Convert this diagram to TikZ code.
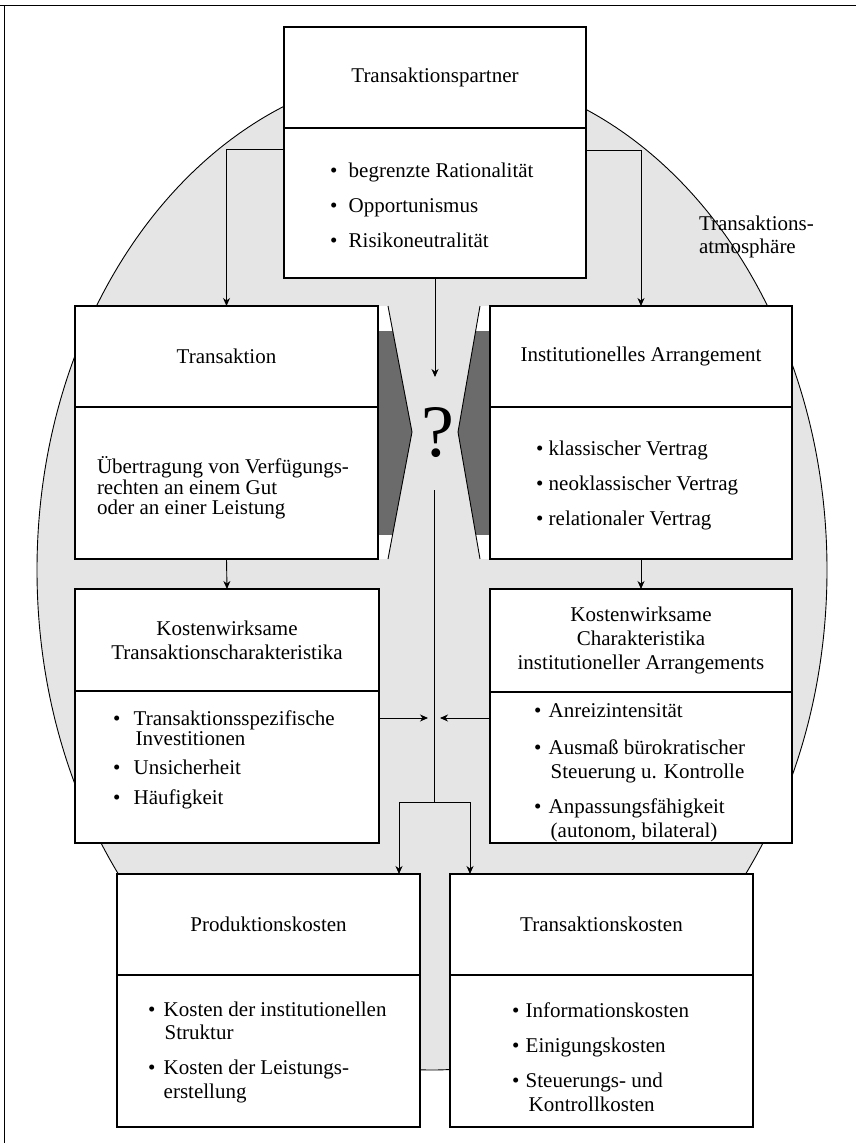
\documentclass[tikz,border=0pt]{standalone}
\usepackage{fontspec}
\setmainfont{Liberation Serif}
\usetikzlibrary{arrows.meta}
\newcommand\bulw[1]{\makebox[#1][l]{\textbullet}}
\begin{document}
\begin{tikzpicture}[x=1pt,y=-1pt,
  every node/.style={font=\fontsize{21}{23}\selectfont, inner sep=0pt, outer sep=0pt},
  part/.style={draw=black, line width=1.3pt, fill=white, align=center},
  txt/.style={align=left, anchor=west},
  arr/.style={line width=0.9pt, -{Stealth[length=8pt,width=7pt,inset=2.5pt]}},
  ln/.style={line width=0.9pt},
  atm/.style={fill=black!10, draw=black, line width=0.9pt},
  dark/.style={fill=black!58},
  frame/.style={line width=1.2pt}]
\useasboundingbox (0,0) rectangle (856,1143);
% frame (top and left only)
\draw[frame] (0,5.5) -- (856,5.5);
\draw[frame] (4.5,5.5) -- (4.5,1143);
% transaction atmosphere
\draw[atm] (432,570) ellipse [x radius=395pt, y radius=500pt];
% wedges beside the question mark
\fill[white] (378,306) -- (388,306) -- (412,432) -- (388,559) -- (378,559) -- cycle;
\begin{scope}
  \clip (378,306) -- (388,306) -- (412,432) -- (388,559) -- (378,559) -- cycle;
  \fill[dark] (370,331) rectangle (420,535);
\end{scope}
\draw[ln] (388,306) -- (412,432) -- (388,559);
\fill[white] (490,306) -- (480,306) -- (458,432) -- (480,559) -- (490,559) -- cycle;
\begin{scope}
  \clip (490,306) -- (480,306) -- (458,432) -- (480,559) -- (490,559) -- cycle;
  \fill[dark] (450,331) rectangle (500,535);
\end{scope}
\draw[ln] (480,306) -- (458,432) -- (480,559);
% boxes
\node[part, minimum width=302pt, minimum height=101pt] (tph) at (435,77.5) {Transaktionspartner};
\node[part, minimum width=302pt, minimum height=150pt] (tpb) at (435,203) {};
\node[part, minimum width=303pt, minimum height=101pt] (th) at (226.5,356.5) {Transaktion};
\node[part, minimum width=303pt, minimum height=152pt] (tb) at (226.5,483) {};
\node[part, minimum width=302pt, minimum height=101pt] (iah) at (641,356.5) {Institutionelles Arrangement};
\node[part, minimum width=302pt, minimum height=152pt] (iab) at (641,483) {};
\node[part, minimum width=304pt, minimum height=102pt, font=\fontsize{21}{24}\selectfont] (kth) at (227,640) {Kostenwirksame\\Transaktionscharakteristika};
\node[part, minimum width=304pt, minimum height=152pt] (ktb) at (227,767) {};
\node[part, minimum width=302pt, minimum height=103pt, font=\fontsize{21}{24}\selectfont] (kih) at (641,640.5) {Kostenwirksame\\Charakteristika\\institutioneller Arrangements};
\node[part, minimum width=302pt, minimum height=151pt] (kib) at (641,767.5) {};
\node[part, minimum width=303pt, minimum height=101pt] (pkh) at (268.5,924.5) {Produktionskosten};
\node[part, minimum width=303pt, minimum height=152pt] (pkb) at (268.5,1051) {};
\node[part, minimum width=303pt, minimum height=101pt] (tkh) at (601.5,924.5) {Transaktionskosten};
\node[part, minimum width=303pt, minimum height=152pt] (tkb) at (601.5,1051) {};
% body texts
\node[txt, font=\fontsize{21}{21}\selectfont] (tpt) at (330,205) {\bulw{18.7pt}begrenzte Rationalität\\[14pt]\bulw{18.7pt}Opportunismus\\[14pt]\bulw{18.7pt}Risikoneutralität};
\node[txt, font=\fontsize{21}{20.5}\selectfont] (tbt) at (97,488) {Übertragung von Verfügungs-\\rechten an einem Gut\\oder an einer Leistung};
\node[txt, font=\fontsize{21}{21}\selectfont] (iat) at (536,485) {\bulw{12.7pt}klassischer Vertrag\\[14pt]\bulw{12.7pt}neoklassischer Vertrag\\[14pt]\bulw{12.7pt}relationaler Vertrag};
\node[txt, font=\fontsize{21}{20}\selectfont] (ktt) at (113,760) {\bulw{20.7pt}Transaktionsspezifische\\\hspace*{22.7pt}Investitionen\\[9pt]\bulw{20.7pt}Unsicherheit\\[10pt]\bulw{20.7pt}Häufigkeit};
\node[txt, font=\fontsize{21}{24}\selectfont] (kit) at (534,773) {\bulw{14.7pt}Anreizintensität\\[13pt]\bulw{14.7pt}Ausmaß bürokratischer\\\hspace*{16.7pt}Steuerung u. Kontrolle\\[11pt]\bulw{14.7pt}Anpassungsfähigkeit\\\hspace*{16.7pt}(autonom, bilateral)};
\node[txt, font=\fontsize{21}{23.5}\selectfont] (pkt) at (148,1052) {\bulw{15.7pt}Kosten der institutionellen\\\hspace*{16.7pt}Struktur\\[11.5pt]\bulw{15.7pt}Kosten der Leistungs-\\\hspace*{15.7pt}erstellung};
\node[txt, font=\fontsize{21}{24}\selectfont] (tkt) at (512,1057) {\bulw{13.7pt}Informationskosten\\[11pt]\bulw{13.7pt}Einigungskosten\\[11pt]\bulw{13.7pt}Steuerungs- und\\\hspace*{16.7pt}Kontrollkosten};
% labels
\node[txt] (atmo) at (699,236.5) {Transaktions-\\atmosphäre};
\node[font=\fontsize{74}{74}\selectfont] (qm) at (438,433) {?};
% connectors
\coordinate (q1) at (435,377);
\coordinate (c1) at (434,490);
\coordinate (c2) at (434,802);
\coordinate (sl) at (399,802);
\coordinate (sr) at (470,802);
\coordinate (cin) at (434,718);
\draw[arr] ([yshift=54pt]tpb.west) -| (th.north);
\draw[arr] ([yshift=53pt]tpb.east) -| (iah.north);
\draw[arr] (tpb.south) -- (q1);
\draw[arr] (tb.south) -- (kth.north);
\draw[arr] (iab.south) -- (kih.north);
\draw[arr] (cin -| ktb.east) -- ([xshift=-6pt]cin);
\draw[arr] (cin -| kib.west) -- ([xshift=6pt]cin);
\draw[ln] (c1) -- (c2);
\draw[ln] (sl) -- (sr);
\draw[arr] (sl) -- (sl |- pkh.north);
\draw[arr] (sr) -- (sr |- tkh.north);
\end{tikzpicture}
\end{document}
